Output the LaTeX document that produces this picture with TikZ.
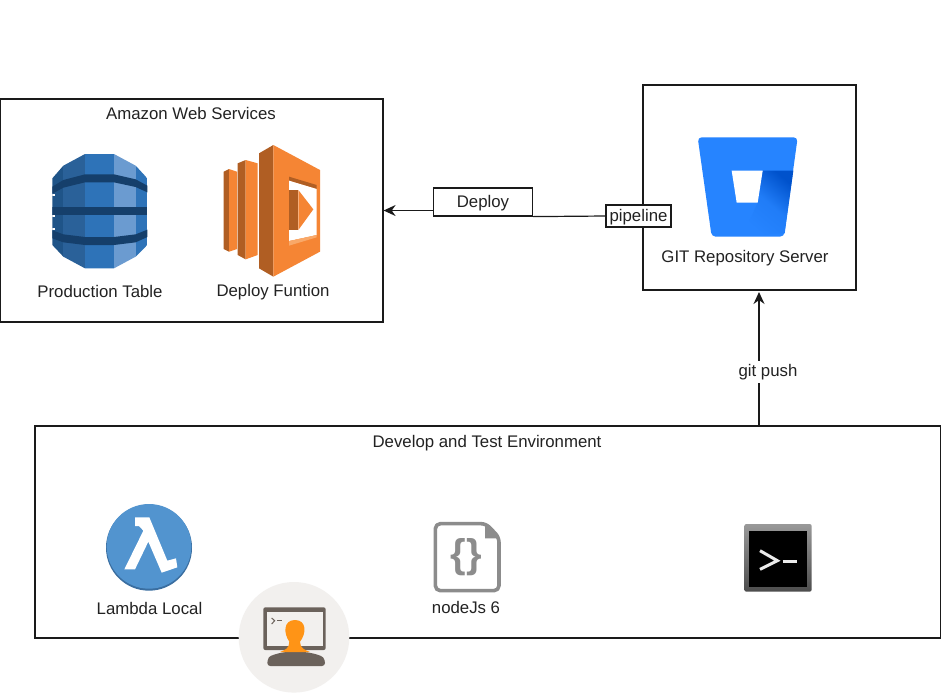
\documentclass[tikz,border=0pt]{standalone}
\usepackage{fontspec}
\setmainfont{Liberation Sans}
\usetikzlibrary{arrows.meta}
\usetikzlibrary{positioning}
\definecolor{linegray}{HTML}{1A1A1A}
\definecolor{textgray}{HTML}{222222}
\definecolor{dbdark}{HTML}{153F6B}
\definecolor{dbleft}{HTML}{1F5488}
\definecolor{dbshade}{HTML}{2A6199}
\definecolor{dbmid}{HTML}{2E73B8}
\definecolor{dblight}{HTML}{6B9BD0}
\definecolor{lamorange}{HTML}{F58534}
\definecolor{lamdark}{HTML}{B05E23}
\definecolor{lamlight}{HTML}{F9A868}
\definecolor{bitblue}{HTML}{2684FF}
\definecolor{bitdark}{HTML}{0052CC}
\definecolor{lamblue}{HTML}{5294CF}
\definecolor{lamrim}{HTML}{3A6EA0}
\definecolor{deskbg}{HTML}{F2F0EE}
\definecolor{deskgray}{HTML}{6B625B}
\definecolor{deskorange}{HTML}{FF9416}
\definecolor{filegray}{HTML}{8C8C8C}
\tikzset{box/.style = {draw=linegray, line width=1.2pt, inner sep=0, fill=white}}
\tikzset{label/.style = {text=textgray, inner sep=0, font=\fontsize{16.8}{19}\selectfont}}
\tikzset{tag/.style = {box, text=textgray, text height=11pt, text depth=0pt, font=\fontsize{16.8}{19}\selectfont}}
\tikzset{arrow/.style = {draw=linegray, line width=1.2pt, -{Stealth[length=12pt,width=11pt]}}}
\tikzset{icon/.style = {shift={#1}, scale=1/3}}

\begin{document}
\begin{tikzpicture}[x=1pt,y=-1pt]
    \useasboundingbox (0,0) rectangle (941,694);
    \fill [white] (0,0) rectangle (941,694);
    \node [box, minimum width=383, minimum height=223] (awsbox) at (191.5,210.5) {};
    \node [box, minimum width=213, minimum height=205] (gitbox) at (749.5,187.5) {};
    \node [box, minimum width=906, minimum height=212] (devbox) at (488,532) {};
    \node [label] (awstitle) at (191,113) {Amazon Web Services};
    \node [label] (prodtable) at (100,291) {Production Table};
    \node [label] (deployfn) at (273,292) {Deploy Funtion};
    \node [label] (gitserver) at (745,258) {GIT Repository Server};
    \node [label] (devtitle) at (487,443.5) {Develop and Test Environment};
    \node [label] (lambdalocal) at (149.5,608.5) {Lambda Local};
    \node [label] (nodejs) at (466,607.5) {nodeJs 6};
    \node [tag, minimum width=99, minimum height=28] (deploy) at (483,202) {Deploy};
    \node [tag, minimum width=65, minimum height=22] (pipeline) at (638.5,216) {pipeline\hspace{6pt}};
    \coordinate (pushstart) at (759,426);
    \coordinate (pushend) at (759,292);
    \draw [draw=linegray, line width=1.2pt] (pipeline.west) -- (deploy.south east);
    \draw [arrow] (deploy.west |- awsbox.east) -- (awsbox.east);
    \draw [arrow] (pushstart) -- (pushend);
    \node [label, fill=white, inner ysep=3] (gitpush) at (768,372) {git push};
    % dynamodb
    \begin{scope}[icon={(45,145)}]
        \begin{scope}
            \clip (120,27) -- (207,27) -- (272,62) -- (307,100) -- (307,300) -- (272,335) -- (207,370) -- (120,370) -- (55,335) -- (22,300) -- (22,100) -- (55,62) -- cycle;
            \fill [dbleft] (22,20) rectangle (55,375);
            \fill [dbshade] (55,20) rectangle (120,375);
            \fill [dbmid] (120,20) rectangle (207,375);
            \fill [dblight] (207,20) rectangle (272,375);
            \fill [dbmid] (272,20) rectangle (307,375);
            \fill [dbdark] (22,125) -- (55,105) -- (120,88) -- (207,88) -- (272,103) -- (307,122) -- (307,142) -- (272,126) -- (207,112) -- (120,112) -- (55,128) -- (22,146) -- cycle;
            \fill [dbdark] (22,187) rectangle (307,209);
            \fill [dbdark] (22,256) -- (55,268) -- (120,276) -- (207,276) -- (272,268) -- (307,254) -- (307,276) -- (272,292) -- (207,300) -- (120,300) -- (55,292) -- (22,280) -- cycle;
            \fill [white] (22,146) rectangle (30,153);
            \fill [white] (22,209) rectangle (30,216);
            \fill [white] (22,249) rectangle (30,256);
        \end{scope}
    \end{scope}
    % lambda function
    \begin{scope}[icon={(215,140)}]
        \fill [lamdark] (26,95) -- (42,87) -- (42,335) -- (26,327) -- cycle;
        \fill [lamorange] (42,87) -- (66,95) -- (66,327) -- (42,335) -- cycle;
        \fill [lamdark] (68,70) -- (92,60) -- (92,358) -- (68,345) -- cycle;
        \fill [lamorange] (92,60) -- (128,70) -- (128,345) -- (92,358) -- cycle;
        \fill [lamdark] (132,40) -- (175,15) -- (175,410) -- (132,385) -- cycle;
        \fill [lamorange] (175,15) -- (315,90) -- (315,335) -- (175,410) -- cycle;
        \fill [lamdark] (222,110) -- (305,135) -- (305,147) -- (222,122) -- cycle;
        \fill [white] (222,122) -- (305,147) -- (305,285) -- (222,303) -- cycle;
        \fill [lamlight] (222,303) -- (305,285) -- (305,292) -- (222,317) -- cycle;
        \fill [lamdark] (222,150) -- (250,150) -- (250,270) -- (222,270) -- cycle;
        \fill [lamorange] (250,150) -- (295,208) -- (250,270) -- cycle;
    \end{scope}
    % bitbucket
    \begin{scope}[icon={(600,120)}]
        \fill [bitblue, rounded corners=4pt] (293,52) -- (593,52) -- (552,350) -- (335,350) -- cycle;
        \shade [top color=bitdark, bottom color=bitblue, middle color=bitblue!85!bitdark, shading angle=-40] (488,152) -- (580,152) -- (554,340) -- (430,345) -- (473,248) -- cycle;
        \fill [white] (395,152) -- (488,152) -- (473,248) -- (410,248) -- cycle;
    \end{scope}
    % lambda local
    \begin{scope}[icon={(90,490)}]
        \fill [lamrim] (177,173) circle [radius=129];
        \fill [lamblue] (177,169) circle [radius=127];
        \fill [white] (135,82) -- (178,82) -- (232,212) -- (258,205) -- (262,232) -- (215,248) -- (175,155) -- (135,238) -- (103,238) -- (160,122) -- (147,108) -- (135,108) -- cycle;
    \end{scope}
    % file icon
    \begin{scope}[icon={(420,510)}]
        \draw [filegray, line width=3.6pt, line join=round, rounded corners=5pt] (46,41) -- (198,41) -- (237,82) -- (237,242) -- (46,242) -- cycle;
        \fill [filegray] (195,42) -- (238,85) -- (195,85) -- cycle;
        \node [text=filegray, inner sep=0, font={\bfseries\fontsize{40}{42}\selectfont}] (braces) at (139,140) {\{\}};
    \end{scope}
    % terminal icon
    \begin{scope}[icon={(420,510)}]
        \shade [top color=gray!80, bottom color=black!70, rounded corners=2pt] (973,42) rectangle (1175,245);
        \fill [black] (987,62) rectangle (1162,232);
        \draw [white!92!black, line width=3pt] (1020,122) -- (1072,152) -- (1020,178);
        \draw [white!92!black, line width=2.4pt] (1088,155) -- (1130,155);
    \end{scope}
    % desktop icon
    \fill [deskbg] (294,637.3) circle [radius=55.3];
    \begin{scope}[icon={(250,600)}]
        \fill [deskgray, rounded corners=2pt] (40,22) rectangle (227,150);
        \fill [deskbg] (50,35) rectangle (218,138);
        \draw [deskgray, line width=1pt] (65,54) -- (74,62) -- (65,72);
        \draw [deskgray, line width=1pt] (82,62) -- (96,62);
        \fill [deskgray, rounded corners=3pt] (52,198) -- (52,180) .. controls (60,166) and (85,160) .. (105,156) -- (165,156) .. controls (190,160) and (215,166) .. (225,180) -- (225,198) -- cycle;
        \fill [deskorange] (90,156) .. controls (105,150) and (118,145) .. (118,125) .. controls (100,100) and (100,60) .. (135,60) .. controls (170,60) and (170,100) .. (150,125) .. controls (150,145) and (165,150) .. (180,156) -- cycle;
    \end{scope}
\end{tikzpicture}
\end{document}
